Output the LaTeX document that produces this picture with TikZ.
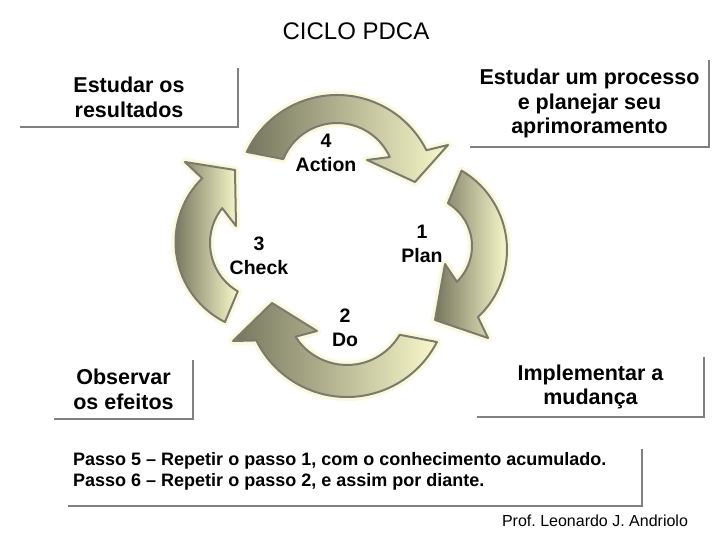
\documentclass[tikz,border=0pt]{standalone}
\usepackage{fontspec}
\setmainfont{Liberation Sans}
\frenchspacing
\definecolor{adark}{RGB}{118,118,94}
\definecolor{alight}{RGB}{248,248,202}
\definecolor{aline}{RGB}{122,122,116}
\definecolor{aglow}{RGB}{250,250,216}
\definecolor{shline}{RGB}{128,128,128}
% arrow outlines (image coordinates, y downwards)
\newcommand\arrowTop{([shift={(205.5:100)}]337,195) arc[start angle=205.5, end angle=333.4, radius=100] -- (448,145) -- (415,182) -- (367,160) -- ([shift={(335.6:58)}]337,181) arc[start angle=335.6, end angle=202.2, radius=58] -- cycle}
\newcommand\arrowRight{([shift={(-59.6:92)}]415,250) arc[start angle=-59.6, end angle=46.8, radius=92] -- (488,338) -- (435,320) -- (445,264) -- ([shift={(45.8:50)}]422,246) arc[start angle=45.8, end angle=-58.8, radius=50] -- cycle}
\newcommand\arrowBottom{([shift={(27.1:101)}]347,296) arc[start angle=27.1, end angle=153.9, radius=101] -- (233,341) -- (272,303) -- (317,331) -- ([shift={(147.6:61)}]347,304) arc[start angle=147.6, end angle=30.3, radius=61] -- cycle}
\newcommand\arrowLeft{([shift={(116.6:89.5)}]265,242) arc[start angle=116.6, end angle=225.4, radius=89.5] -- (185,162) -- (235,170) -- (236,226) -- ([shift={(218.5:56)}]266,243) arc[start angle=218.5, end angle=120.3, radius=56] -- cycle}
\begin{document}
\begin{tikzpicture}[x=1pt,y=-1pt,
  cyc/.style={draw=aline, line width=2pt, line join=round, left color=adark, right color=alight},
  glow/.style={draw=aglow, line width=8pt, line join=round},
  boxlbl/.style={font=\bfseries\fontsize{21.5}{24.5}\selectfont, align=center, inner sep=0pt},
  cyclbl/.style={font=\bfseries\fontsize{19.5}{23.5}\selectfont, align=center, inner sep=0pt},
  shadowline/.style={draw=shline, line width=2pt},
]
\useasboundingbox (0,0) rectangle (720,540);

% title
\node[font=\fontsize{24}{28}\selectfont, inner sep=0pt] (title) at (356,31) {CICLO PDCA};

% curved arrows
\path[glow] \arrowTop;
\path[glow] \arrowRight;
\path[glow] \arrowBottom;
\path[glow] \arrowLeft;
\path[cyc] \arrowTop;
\path[cyc] \arrowRight;
\path[cyc] \arrowBottom;
\path[cyc] \arrowLeft;

% cycle labels
\node[cyclbl] (act) at (326,153) {4\\Action};
\node[cyclbl] (plan) at (422,244) {1\\Plan};
\node[cyclbl] (chk) at (259,256) {3\\Check};
\node[cyclbl] (do) at (345,328) {2\\Do};

% text boxes
\node[boxlbl, minimum width=218pt, minimum height=59pt] (b1) at (129,97.5) {Estudar os\\resultados};
\node[boxlbl, minimum width=239pt, minimum height=87pt] (b2) at (589.5,103.5) {Estudar um processo\\e planejar seu\\aprimoramento};
\node[boxlbl, minimum width=139pt, minimum height=59pt] (b3) at (123.5,389.5) {Observar\\os efeitos};
\node[boxlbl, minimum width=227pt, minimum height=60pt] (b4) at (590.5,387) {Implementar a\\mudança};
\node[minimum width=574pt, minimum height=57pt, inner sep=0pt] (b5) at (355,477.5) {};
\node[font=\bfseries\fontsize{18}{21}\selectfont, align=left, inner sep=0pt, anchor=west] (t5) at (73,471)
  {Passo 5 – Repetir o passo 1, com o conhecimento acumulado.\\Passo 6 – Repetir o passo 2, e assim por diante.};
\foreach \b in {b1,b2,b3,b4,b5}{
  \draw[shadowline] (\b.north east) -- (\b.south east) -- (\b.south west);
}

% author
\node[font=\fontsize{16}{19}\selectfont, inner sep=0pt] (prof) at (595,521) {Prof. Leonardo J. Andriolo};
\end{tikzpicture}
\end{document}
